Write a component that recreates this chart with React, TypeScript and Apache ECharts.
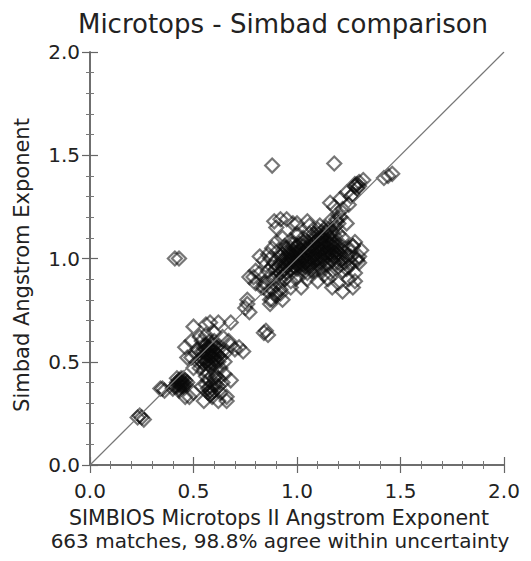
import React, { useEffect, useRef } from "react";
import * as echarts from "echarts";

// Microtops II (x) vs Simbad (y) Angstrom exponent matches
const outliers: number[][] = [
  [0.41, 1.0], [0.43, 1.0], [0.88, 1.45], [1.18, 1.46],
];

const lowArm: number[][] = [
  [0.23, 0.23], [0.25, 0.23], [0.24, 0.24], [0.26, 0.22],
  [0.34, 0.37], [0.36, 0.36], [0.35, 0.37],
  [0.41, 0.38], [0.42, 0.4], [0.43, 0.39], [0.44, 0.41], [0.45, 0.4], [0.43, 0.37],
  [0.46, 0.39], [0.44, 0.38], [0.42, 0.42], [0.45, 0.42], [0.47, 0.4], [0.4, 0.37],
  [0.43, 0.36], [0.44, 0.4], [0.43, 0.41], [0.45, 0.38], [0.42, 0.39], [0.44, 0.39],
  [0.43, 0.4], [0.45, 0.39], [0.44, 0.42], [0.42, 0.38], [0.46, 0.41],
];

const midCluster: number[][] = [
  [0.5, 0.47], [0.52, 0.5], [0.54, 0.52], [0.55, 0.55], [0.56, 0.5], [0.57, 0.53],
  [0.58, 0.56], [0.59, 0.52], [0.6, 0.55], [0.61, 0.5], [0.62, 0.53], [0.58, 0.48],
  [0.56, 0.58], [0.6, 0.58], [0.57, 0.45], [0.53, 0.47], [0.55, 0.49], [0.59, 0.49],
  [0.61, 0.57], [0.63, 0.52], [0.54, 0.55], [0.57, 0.51], [0.6, 0.53], [0.62, 0.56],
  [0.58, 0.6], [0.55, 0.46], [0.51, 0.54], [0.49, 0.52], [0.47, 0.52], [0.46, 0.57],
  [0.49, 0.6], [0.5, 0.67], [0.56, 0.68], [0.58, 0.69], [0.62, 0.69], [0.68, 0.69],
  [0.64, 0.62], [0.66, 0.55], [0.68, 0.58], [0.72, 0.57], [0.74, 0.55], [0.7, 0.56],
  [0.67, 0.6], [0.65, 0.5], [0.63, 0.47], [0.57, 0.54], [0.59, 0.55], [0.58, 0.52],
  [0.56, 0.54], [0.6, 0.51], [0.57, 0.57], [0.59, 0.58], [0.53, 0.62], [0.56, 0.63],
  [0.55, 0.52], [0.57, 0.49], [0.59, 0.53], [0.61, 0.54], [0.56, 0.56], [0.58, 0.54],
  [0.6, 0.49], [0.54, 0.5], [0.62, 0.5], [0.58, 0.57], [0.55, 0.58], [0.6, 0.6],
  [0.52, 0.56], [0.64, 0.55], [0.6, 0.64], [0.54, 0.6],
];

const midLower: number[][] = [
  [0.55, 0.31], [0.57, 0.35], [0.58, 0.38], [0.6, 0.42], [0.61, 0.43], [0.62, 0.38],
  [0.63, 0.35], [0.64, 0.4], [0.66, 0.33], [0.66, 0.31], [0.68, 0.41], [0.65, 0.44],
  [0.59, 0.33], [0.57, 0.41], [0.62, 0.31], [0.6, 0.36], [0.54, 0.38], [0.56, 0.43],
  [0.61, 0.46], [0.48, 0.33], [0.46, 0.33], [0.5, 0.35], [0.58, 0.34], [0.61, 0.39],
  [0.58, 0.36], [0.57, 0.37], [0.59, 0.35], [0.6, 0.39], [0.56, 0.39], [0.62, 0.42],
];

const bridge: number[][] = [
  [0.76, 0.78], [0.77, 0.74], [0.75, 0.76], [0.87, 0.78], [0.88, 0.8], [0.84, 0.64],
  [0.86, 0.63], [0.85, 0.65], [0.79, 0.91], [0.77, 0.91], [0.82, 0.93], [0.8, 0.88],
  [0.83, 0.86], [0.85, 0.88], [0.88, 0.85], [0.9, 0.83], [0.92, 0.83], [0.76, 0.8],
  [0.87, 0.8], [0.84, 0.86], [0.8, 0.94],
];

const mainCluster: number[][] = [
  [0.93, 1.1], [0.97, 1.09], [1.0, 1.11], [1.03, 1.08], [1.06, 1.12], [1.09, 1.1],
  [1.12, 1.09], [1.15, 1.11], [1.17, 1.08], [1.2, 1.12], [1.22, 1.1], [1.14, 1.13],
  [1.1, 1.14], [1.18, 1.15], [0.9, 1.08],
  [0.89, 1.18], [0.92, 1.19], [0.95, 1.19], [0.98, 1.17], [1.0, 1.17], [1.05, 1.18],
  [1.06, 1.16], [1.19, 1.19], [1.21, 1.2], [1.24, 1.17], [1.16, 1.18], [0.9, 1.15],
  [1.0, 1.12], [1.19, 1.18], [1.2, 1.17],
  [0.88, 1.05], [0.91, 1.04], [0.94, 1.06], [0.96, 1.03], [0.99, 1.05], [1.01, 1.07],
  [1.04, 1.04], [1.07, 1.06], [1.1, 1.03], [1.13, 1.05], [1.16, 1.07], [1.19, 1.04],
  [1.22, 1.06], [1.25, 1.05], [1.27, 1.06], [0.86, 1.02], [0.93, 1.02], [1.05, 1.02],
  [1.11, 1.07], [1.17, 1.02],
  [0.84, 0.99], [0.87, 1.0], [0.89, 0.98], [0.92, 1.01], [0.95, 0.99], [0.97, 1.0],
  [0.99, 0.98], [1.0, 1.0], [1.02, 1.01], [1.05, 0.99], [1.08, 1.0], [1.11, 0.98],
  [1.14, 1.01], [1.17, 0.99], [1.2, 1.0], [1.23, 0.98], [1.26, 1.01], [1.29, 1.0],
  [1.3, 0.98], [0.82, 1.01], [0.96, 1.02], [1.03, 0.97], [1.09, 1.02], [1.15, 0.97],
  [0.86, 0.94], [0.9, 0.95], [0.92, 0.93], [0.95, 0.96], [0.98, 0.94], [1.0, 0.95],
  [1.03, 0.93], [1.06, 0.96], [1.09, 0.94], [1.12, 0.95], [1.16, 0.93], [1.19, 0.95],
  [1.22, 0.94], [1.25, 0.96], [1.28, 0.93], [1.13, 0.92], [0.94, 0.97], [1.01, 0.97],
  [0.84, 0.88], [0.88, 0.9], [0.91, 0.88], [0.94, 0.9], [0.97, 0.89], [1.0, 0.91],
  [1.05, 0.9], [1.1, 0.89], [1.15, 0.9], [1.2, 0.88], [1.25, 0.9], [1.28, 0.89],
  [0.92, 0.85], [0.86, 0.84], [0.9, 0.82], [0.93, 0.8], [0.97, 0.86], [1.02, 0.86],
  [1.17, 0.86], [1.22, 0.84], [1.27, 0.86],
  [1.27, 1.06], [1.3, 1.01], [1.31, 1.04], [1.28, 1.08], [1.29, 0.99],
];

const mainCore: number[][] = [
  [0.95, 1.0], [0.97, 0.98], [0.98, 1.02], [1.0, 1.03], [1.01, 0.99], [1.02, 1.04],
  [1.03, 1.0], [1.04, 1.02], [1.05, 1.05], [1.06, 1.01], [1.07, 1.03], [1.08, 0.98],
  [1.09, 1.05], [1.1, 1.0], [1.11, 1.02], [1.12, 1.04], [1.13, 0.99], [1.14, 1.06],
  [1.15, 1.03], [1.16, 1.0], [1.18, 1.06], [1.18, 1.01], [0.99, 1.01], [1.01, 1.02],
  [0.96, 0.97], [0.98, 0.99], [1.0, 0.97], [1.02, 0.98], [1.04, 0.96], [1.06, 0.99],
  [1.08, 1.07], [1.1, 1.09], [1.12, 1.1], [1.14, 1.08], [1.16, 1.1], [1.18, 1.11],
  [0.93, 0.99], [0.94, 1.03], [0.97, 1.05], [1.03, 1.06], [1.07, 0.94], [1.11, 0.95],
  [1.13, 1.02], [1.2, 1.03], [1.21, 0.97], [1.24, 1.01], [1.0, 1.06], [1.05, 1.08],
  [1.08, 1.12], [1.1, 1.12], [1.12, 1.13], [1.14, 1.15], [1.11, 1.16], [1.09, 1.08],
  [1.13, 1.11], [1.15, 1.14], [1.17, 1.13], [1.1, 1.06], [1.12, 1.07], [1.07, 1.09],
  [0.91, 0.96], [0.93, 0.94], [0.95, 0.93], [0.97, 0.95], [0.99, 0.96], [1.02, 0.95],
  [1.04, 0.98], [1.06, 1.04], [1.08, 1.03], [1.1, 1.05], [1.15, 1.05], [1.17, 1.04],
  [1.19, 1.02], [1.21, 1.04], [1.23, 1.03], [1.22, 1.0], [1.18, 0.98], [1.14, 0.97],
  [1.05, 0.93], [1.08, 0.96], [1.01, 1.04], [0.98, 1.07], [1.03, 1.1], [0.95, 1.05],
  [0.89, 0.94], [0.9, 0.91], [0.92, 0.9], [0.88, 0.96], [1.26, 0.98], [1.24, 0.95],
  [0.92, 0.97], [0.94, 0.95], [0.96, 0.99], [0.98, 0.96], [1.0, 0.98], [1.02, 1.0],
  [1.04, 1.0], [1.06, 0.97], [1.08, 1.01], [1.1, 0.97], [1.12, 1.0], [1.14, 1.03],
  [1.16, 1.02], [1.18, 1.03], [1.2, 1.06], [1.09, 1.0], [1.11, 1.04], [1.13, 1.07],
  [1.15, 1.08], [1.17, 1.06], [1.07, 1.0], [1.03, 1.03], [0.97, 1.02], [0.99, 1.03],
  [1.05, 1.06], [1.07, 1.05], [1.11, 1.1], [1.16, 1.12], [1.19, 1.08], [1.21, 1.02],
];

const upperArm: number[][] = [
  [1.16, 1.27], [1.21, 1.29], [1.18, 1.25], [1.24, 1.32], [1.28, 1.36], [1.32, 1.38],
  [1.27, 1.31], [1.29, 1.34], [1.3, 1.37], [1.26, 1.3], [1.22, 1.24], [1.25, 1.26],
  [1.42, 1.39], [1.46, 1.41], [1.44, 1.4], [1.2, 1.22], [1.28, 1.35], [1.3, 1.35],
  [1.29, 1.36],
];

const lineOfIdentity: number[][] = [[0, 0], [2, 2]];
const xTicks = [0, 0.5, 1.0, 1.5, 2.0];

const allPoints = [
  ...outliers, ...lowArm, ...midCluster, ...midLower, ...bridge,
  ...mainCluster, ...mainCore, ...upperArm,
];

const FONT = "'DejaVu Sans', sans-serif";

export default function App() {
  const ref = useRef<HTMLDivElement>(null);
  useEffect(() => {
    if (!ref.current) return;
    const chart = echarts.init(ref.current, undefined, { renderer: "svg" });
    const axisCommon = (show: boolean) => ({
      type: "value" as const,
      min: xTicks[0],
      max: xTicks[xTicks.length - 1],
      interval: 0.5,
      axisLine: { show: true, lineStyle: { color: "#666", width: 1.5 } },
      axisTick: { show: true, inside: true, length: 8, lineStyle: { color: "#666", width: 1.2 } },
      minorTick: { show: true, splitNumber: 5, length: 4, lineStyle: { color: "#777", width: 1 } },
      splitLine: { show: false },
      minorSplitLine: { show: false },
      axisLabel: {
        show,
        fontSize: 20,
        fontFamily: FONT,
        color: "#222",
        formatter: (v: number) => v.toFixed(1),
      },
    });
    chart.setOption({
      animation: false,
      backgroundColor: "#fff",
      grid: { left: 90, right: 27, top: 52, bottom: 96 },
      xAxis: [
        { ...axisCommon(true), position: "bottom", axisLabel: { ...axisCommon(true).axisLabel, margin: 16 } },
        { ...axisCommon(false), position: "top" },
      ],
      yAxis: [
        { ...axisCommon(true), position: "left", axisLabel: { ...axisCommon(true).axisLabel, margin: 10 } },
        { ...axisCommon(false), position: "right" },
      ],
      graphic: [
        {
          type: "text",
          x: 283,
          y: 24,
          style: {
            text: "Microtops - Simbad comparison",
            font: `26px ${FONT}`,
            fill: "#222",
            textAlign: "center",
            textVerticalAlign: "middle",
          },
        },
        {
          type: "text",
          x: 279,
          y: 518,
          style: {
            text: "SIMBIOS Microtops II Angstrom Exponent",
            font: `20.5px ${FONT}`,
            fill: "#222",
            textAlign: "center",
            textVerticalAlign: "middle",
          },
        },
        {
          type: "text",
          x: 280,
          y: 541,
          style: {
            text: "663 matches, 98.8% agree within uncertainty",
            font: `20px ${FONT}`,
            fill: "#222",
            textAlign: "center",
            textVerticalAlign: "middle",
          },
        },
        {
          type: "text",
          x: 22,
          y: 265,
          rotation: Math.PI / 2,
          style: {
            text: "Simbad Angstrom Exponent",
            font: `21px ${FONT}`,
            fill: "#222",
            textAlign: "center",
            textVerticalAlign: "middle",
          },
        },
      ],
      series: [
        {
          type: "line",
          data: lineOfIdentity,
          symbol: "none",
          lineStyle: { color: "#777", width: 1.2 },
          silent: true,
        },
        {
          type: "scatter",
          data: allPoints,
          symbol: "diamond",
          symbolSize: 14,
          itemStyle: {
            color: "rgba(0,0,0,0)",
            borderColor: "rgba(10,10,10,0.7)",
            borderWidth: 2.2,
          },
        },
      ],
    });
    return () => chart.dispose();
  }, []);
  return (
    <div
      ref={ref}
      style={{ position: "fixed", left: 0, top: 0, width: 531, height: 561 }}
    />
  );
}
